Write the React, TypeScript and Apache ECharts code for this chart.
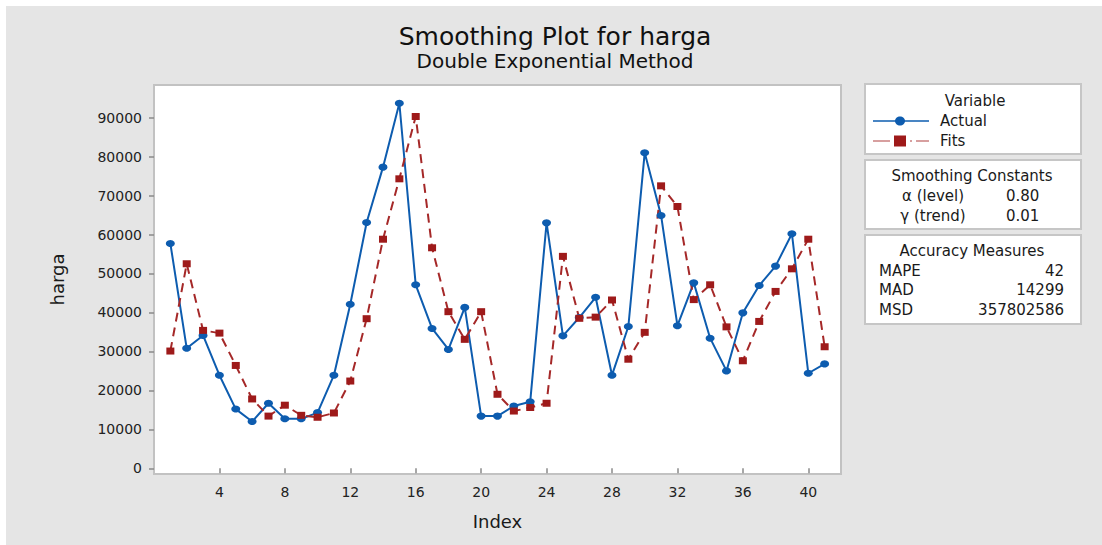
import React, { useEffect, useRef } from "react";
import * as echarts from "echarts";

const indexValues = [1, 2, 3, 4, 5, 6, 7, 8, 9, 10, 11, 12, 13, 14, 15, 16, 17, 18, 19, 20, 21, 22, 23, 24, 25, 26, 27, 28, 29, 30, 31, 32, 33, 34, 35, 36, 37, 38, 39, 40, 41];
const actualValues = [57700, 30800, 34100, 23900, 15200, 12000, 16700, 12700, 12700, 14300, 23900, 42100, 63100, 77300, 93700, 47100, 35900, 30500, 41300, 13400, 13400, 16000, 17100, 63000, 34000, 38700, 43900, 23900, 36400, 81000, 64900, 36600, 47600, 33400, 25000, 39900, 46900, 51900, 60200, 24400, 26800];
const fitValues = [30100, 52500, 35400, 34700, 26400, 17800, 13400, 16200, 13600, 13100, 14200, 22400, 38400, 58800, 74300, 90300, 56600, 40200, 33100, 40200, 19000, 14700, 15600, 16700, 54400, 38500, 38800, 43200, 28000, 34900, 72500, 67200, 43300, 47100, 36300, 27600, 37700, 45400, 51200, 58800, 31200];
const xTicks = [4, 8, 12, 16, 20, 24, 28, 32, 36, 40];
const yTicks = [0, 10000, 20000, 30000, 40000, 50000, 60000, 70000, 80000, 90000];
const smoothingRows = [["α (level)", "0.80"], ["γ (trend)", "0.01"]];
const accuracyRows = [["MAPE", "42"], ["MAD", "14299"], ["MSD", "357802586"]];

const FONT = "DejaVu Sans";
const BLUE = "#0d5caf";
const RED = "#9e1a1a";
const OFF = 6; // chart offset in page

export default function App() {
  const ref = useRef<HTMLDivElement>(null);
  useEffect(() => {
    document.body.style.margin = "0";
    if (!ref.current) return;
    const chart = echarts.init(ref.current, undefined, { renderer: "svg" });
    const P = (v: number) => v - OFF;
    const textColor = "#1a1a1a";
    const boxStyle = { fill: "#ffffff", stroke: "#c6c6c6", lineWidth: 2 };
    const graphic: any[] = [
      { type: "text", x: P(555), y: P(36), style: { text: "Smoothing Plot for harga", font: `25px "${FONT}"`, fill: "#111", align: "center", verticalAlign: "middle" } },
      { type: "text", x: P(555), y: P(61), style: { text: "Double Exponential Method", font: `20px "${FONT}"`, fill: "#111", align: "center", verticalAlign: "middle" } },
      // Variable box
      { type: "rect", shape: { x: P(865), y: P(84), width: 216, height: 70 }, style: boxStyle },
      { type: "text", x: P(975), y: P(101), style: { text: "Variable", font: `15px "${FONT}"`, fill: textColor, align: "center", verticalAlign: "middle" } },
      { type: "line", shape: { x1: P(873), y1: P(121), x2: P(929), y2: P(121) }, style: { stroke: BLUE, lineWidth: 1.5 } },
      { type: "ellipse", shape: { cx: P(900), cy: P(121), rx: 5, ry: 4.5 }, style: { fill: BLUE } },
      { type: "text", x: P(940), y: P(121), style: { text: "Actual", font: `15px "${FONT}"`, fill: textColor, align: "left", verticalAlign: "middle" } },
      { type: "line", shape: { x1: P(873), y1: P(141), x2: P(929), y2: P(141) }, style: { stroke: "#b04040", lineWidth: 1.2, lineDash: [17, 4, 12, 4, 2, 4] } },
      { type: "rect", shape: { x: P(894), y: P(135.5), width: 12, height: 11 }, style: { fill: RED } },
      { type: "text", x: P(940), y: P(141), style: { text: "Fits", font: `15px "${FONT}"`, fill: textColor, align: "left", verticalAlign: "middle" } },
      // Smoothing box
      { type: "rect", shape: { x: P(865), y: P(160), width: 216, height: 69 }, style: boxStyle },
      { type: "text", x: P(972), y: P(176), style: { text: "Smoothing Constants", font: `15px "${FONT}"`, fill: textColor, align: "center", verticalAlign: "middle" } },
      // Accuracy box
      { type: "rect", shape: { x: P(865), y: P(235), width: 216, height: 89 }, style: boxStyle },
      { type: "text", x: P(972), y: P(251), style: { text: "Accuracy Measures", font: `15px "${FONT}"`, fill: textColor, align: "center", verticalAlign: "middle" } },
    ];
    smoothingRows.forEach((r, i) => {
      const y = P(196 + i * 19.5);
      graphic.push({ type: "text", x: P(933), y, style: { text: r[0], font: `15px "${FONT}"`, fill: textColor, align: "center", verticalAlign: "middle" } });
      graphic.push({ type: "text", x: P(1006), y, style: { text: r[1], font: `15px "${FONT}"`, fill: textColor, align: "left", verticalAlign: "middle" } });
    });
    accuracyRows.forEach((r, i) => {
      const y = P(271 + i * 19.3);
      graphic.push({ type: "text", x: P(879), y, style: { text: r[0], font: `15px "${FONT}"`, fill: textColor, align: "left", verticalAlign: "middle" } });
      graphic.push({ type: "text", x: P(1064), y, style: { text: r[1], font: `15px "${FONT}"`, fill: textColor, align: "right", verticalAlign: "middle" } });
    });

    chart.setOption({
      animation: false,
      backgroundColor: "#e5e5e5",
      textStyle: { fontFamily: FONT },
      grid: {
        left: P(154),
        top: P(85),
        right: 1096 - P(841),
        bottom: 539 - P(474),
        show: true,
        backgroundColor: "#ffffff",
        borderColor: "#c2c2c2",
        borderWidth: 2,
        containLabel: false,
      },
      xAxis: {
        type: "value",
        min: 0,
        max: 42,
        name: "Index",
        nameLocation: "middle",
        nameGap: 38,
        nameTextStyle: { fontSize: 18, color: "#1a1a1a", fontFamily: FONT },
        axisLine: { show: false },
        splitLine: { show: false },
        axisTick: { show: true, length: 5, lineStyle: { color: "#8a8a8a", width: 1.5 }, customValues: xTicks },
        axisLabel: { fontSize: 14, color: "#222", margin: 11, customValues: xTicks, fontFamily: FONT, formatter: (v: number) => String(v) },
      },
      yAxis: {
        type: "value",
        min: -1460,
        max: 98380,
        name: "harga",
        nameLocation: "middle",
        nameGap: 88,
        nameRotate: 90,
        nameTextStyle: { fontSize: 18, color: "#1a1a1a", fontFamily: FONT },
        axisLine: { show: false },
        splitLine: { show: false },
        axisTick: { show: true, length: 5, lineStyle: { color: "#8a8a8a", width: 1.5 }, customValues: yTicks },
        axisLabel: { fontSize: 14, color: "#222", margin: 12, customValues: yTicks, fontFamily: FONT, formatter: (v: number) => String(v) },
      },
      series: [
        {
          name: "Actual",
          type: "line",
          data: indexValues.map((x, i) => [x, actualValues[i]]),
          symbol: "circle",
          symbolSize: [9, 7],
          lineStyle: { color: BLUE, width: 2 },
          itemStyle: { color: BLUE },
        },
        {
          name: "Fits",
          type: "line",
          data: indexValues.map((x, i) => [x, fitValues[i]]),
          symbol: "rect",
          symbolSize: [8, 7],
          lineStyle: { color: "#a52828", width: 2, type: [9, 6] },
          itemStyle: { color: RED },
        },
      ],
      graphic,
    });
    return () => chart.dispose();
  }, []);
  return (
    <div style={{ position: "relative", width: 1102, height: 545, background: "#ffffff" }}>
      <div ref={ref} style={{ position: "absolute", left: OFF, top: OFF, width: 1096, height: 539 }} />
    </div>
  );
}
